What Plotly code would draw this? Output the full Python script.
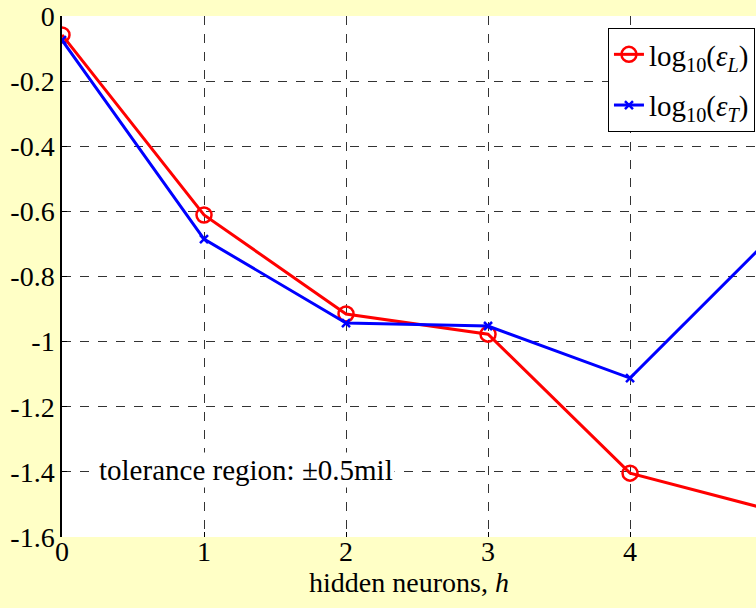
import plotly.graph_objects as go

h = [0, 1, 2, 3, 4, 5]
err_L = [-0.058, -0.611, -0.915, -0.977, -1.404, -1.518]
err_T = [-0.074, -0.685, -0.943, -0.952, -1.112, -0.676]
ytick_vals = [0, -0.2, -0.4, -0.6, -0.8, -1.0, -1.2, -1.4, -1.6]
ytick_text = ["0", "-0.2", "-0.4", "-0.6", "-0.8", "-1", "-1.2", "-1.4", "-1.6"]
xtick_vals = [0, 1, 2, 3, 4, 5]
note = "tolerance region: ±0.5mil"

FONT = "Liberation Serif"

fig = go.Figure()
fig.add_trace(go.Scatter(
    x=h, y=err_L, mode="lines+markers",
    name="log<sub>10</sub>(<i>ε<sub>L</sub></i>)",
    line=dict(color="#ff0000", width=3),
    marker=dict(symbol="circle-open", size=15, color="#ff0000", line=dict(width=2.5)),
    legendgroup="a",
))
fig.add_trace(go.Scatter(
    x=h, y=err_T, mode="lines+markers",
    name="log<sub>10</sub>(<i>ε<sub>T</sub></i>)",
    line=dict(color="#0000ff", width=3),
    marker=dict(symbol="x-thin-open", size=8, color="#0000ff", line=dict(width=2.5, color="#0000ff")),
    legendgroup="b",
))

fig.add_annotation(
    x=1.296, y=-1.394, xref="x", yref="y", text=note, showarrow=False,
    font=dict(family=FONT, size=29, color="black"), bgcolor="white",
    borderpad=1,
)

fig.update_layout(
    width=756, height=608,
    margin=dict(l=62, r=0, t=16, b=71),
    paper_bgcolor="#FFFFC6", plot_bgcolor="white",
    font=dict(family=FONT, size=28, color="black"),
    showlegend=True,
    legend=dict(
        x=0.9985, y=0.977, xanchor="right", yanchor="top",
        bgcolor="white", bordercolor="black", borderwidth=1,
        font=dict(family=FONT, size=29, color="black"),
        tracegroupgap=10,
    ),
    xaxis=dict(
        range=[0, 4.887], tickvals=xtick_vals, ticks="inside", ticklen=5,
        tickcolor="black", showgrid=True, gridcolor="#333", griddash="dash",
        gridwidth=1, zeroline=False, showline=False,
        ticklabelstandoff=-5,
        title=dict(text="hidden neurons, <i>h</i>", font=dict(family=FONT, size=28, color="black"), standoff=0),
        tickfont=dict(family=FONT, size=28, color="black"),
    ),
    yaxis=dict(
        range=[-1.6, 0], tickvals=ytick_vals, ticktext=ytick_text, ticks="inside",
        ticklen=5, tickcolor="black", showgrid=True, gridcolor="#333",
        griddash="dash", gridwidth=1, zeroline=False, showline=True,
        linecolor="black", linewidth=1.5,
        tickfont=dict(family=FONT, size=28, color="black"),
    ),
)

fig.write_html("out.html")
